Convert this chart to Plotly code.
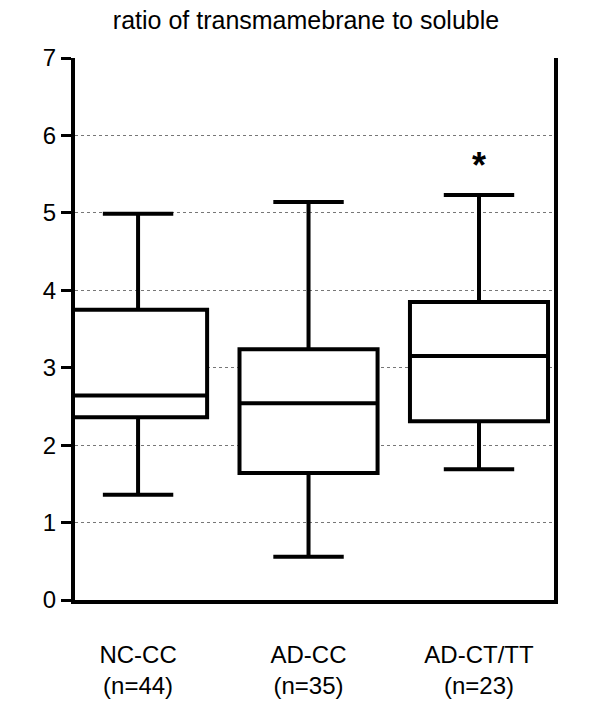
import plotly.graph_objects as go

groups = ["NC-CC", "AD-CC", "AD-CT/TT"]
ns = ["(n=44)", "(n=35)", "(n=23)"]
lower = [1.36, 0.56, 1.69]
q1 = [2.36, 1.64, 2.31]
median = [2.64, 2.54, 3.15]
q3 = [3.75, 3.24, 3.85]
upper = [4.99, 5.14, 5.23]
yticks = [0, 1, 2, 3, 4, 5, 6, 7]

xs = list(range(len(groups)))
fig = go.Figure()
fig.add_trace(go.Box(x=xs, q1=q1, median=median, q3=q3, lowerfence=lower, upperfence=upper,
                     fillcolor="white", line=dict(color="black", width=4), width=0.81,
                     whiskerwidth=0.51, boxpoints=False, hoverinfo="skip"))
fig.add_annotation(x=2, y=upper[2], text="<b>*</b>", showarrow=False, yshift=30,
                   font=dict(size=36, color="black", family="Arial"))
fig.update_layout(
    width=596, height=704, plot_bgcolor="white", paper_bgcolor="white", showlegend=False,
    margin=dict(l=67, r=50, t=50, b=112, autoexpand=False),
    font=dict(family="Arial, Liberation Sans", size=24, color="black"),
    title=dict(text="ratio of transmamebrane to soluble", x=0.5, xanchor="center", y=0.995, yanchor="top",
               font=dict(size=25)),
    xaxis=dict(range=[-0.37, 2.44], tickvals=xs,
               ticktext=[f"{g}<br>{n}" for g, n in zip(groups, ns)],
               ticklabelstandoff=30,
               showline=True, linecolor="black", linewidth=4, ticks="", showgrid=False, zeroline=False),
    yaxis=dict(range=[0, 7], tickvals=yticks, showline=True, mirror=True, linecolor="black", linewidth=4,
               ticks="outside", ticklen=10, tickwidth=3, tickcolor="black",
               showgrid=True, gridcolor="#777", griddash="dot", gridwidth=1, zeroline=False),
)
fig.write_html("out.html")
